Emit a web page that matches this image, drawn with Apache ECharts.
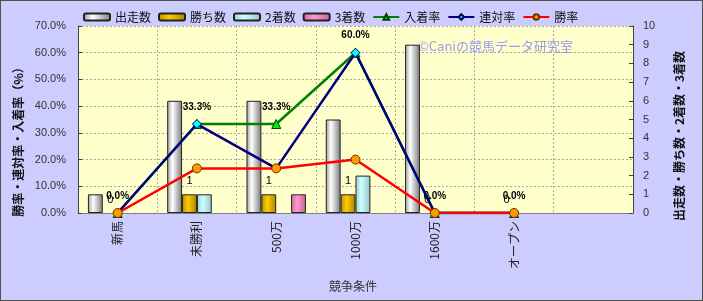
<!DOCTYPE html>
<html>
<head>
<meta charset="utf-8">
<script src="https://cdn.jsdelivr.net/npm/echarts@6/dist/echarts.min.js"></script>
<style>
html,body{margin:0;padding:0;background:#CCCCFF;}
#c{width:703px;height:301px;box-sizing:border-box;border:1px solid #505050;background:#CCCCFF;}
</style>
</head>
<body>
<div id="c"></div>
<script>
// ---- data ----
var categories = ['新馬', '未勝利', '500万', '1000万', '1600万', 'オープン', ''];
var runs      = [1, 6, 6, 5, 9, 0, null];      // 出走数
var wins      = [0, 1, 1, 1, 0, 0, null];      // 勝ち数
var seconds   = [0, 1, 0, 2, 0, 0, null];      // 2着数
var thirds    = [0, 0, 1, 0, 0, 0, null];      // 3着数
var placeRate = [0, 33.3, 33.3, 60.0, 0, 0, null]; // 入着率
var rentaiRate= [0, 33.3, 16.7, 60.0, 0, 0, null]; // 連対率
var winRate   = [0, 16.7, 16.7, 20.0, 0, 0, null]; // 勝率
var leftTicks = {min: 0, max: 70, interval: 10};
var rightTicks = {min: 0, max: 10, interval: 1};

var FONT = '"Liberation Sans", "Noto Sans CJK JP", sans-serif';
var JFONT = '"Noto Sans CJK JP", "Liberation Sans", sans-serif';

function grad(stops) {
  return new echarts.graphic.LinearGradient(0, 0, 1, 0, stops);
}
// zero-height bars get no outline (invisible, as in the reference)
function barData(arr) {
  return arr.map(function (v) {
    return v === 0 ? {value: 0, itemStyle: {borderWidth: 0, opacity: 0}} : v;
  });
}

var chart = echarts.init(document.getElementById('c'), null, {renderer: 'canvas'});
var option = {
  animation: false,
  textStyle: {fontFamily: FONT},
  legend: {
    left: 82, top: 10, padding: 0,
    itemWidth: 26, itemHeight: 7, itemGap: 7,
    textStyle: {fontFamily: JFONT, fontSize: 12, color: '#111'},
    data: ['出走数', '勝ち数', '2着数', '3着数', '入着率', '連対率', '勝率']
  },
  grid: {
    left: 77, right: 69, top: 25, bottom: 87,
    show: true, backgroundColor: '#FFFFCC', borderWidth: 0
  },
  xAxis: {
    type: 'category',
    data: categories,
    boundaryGap: true,
    axisLine: {show: true, lineStyle: {color: '#808080', width: 1}},
    axisTick: {show: false},
    axisLabel: {rotate: 90, margin: 8, fontFamily: JFONT, fontSize: 12, color: '#222', interval: 0},
    splitLine: {show: true, interval: 0, lineStyle: {color: '#A8A8A8', type: [2, 2], width: 1}}
  },
  yAxis: [
    {
      type: 'value', min: leftTicks.min, max: leftTicks.max, interval: leftTicks.interval,
      axisLine: {show: true, lineStyle: {color: '#404040'}},
      axisTick: {show: true, inside: true, length: 4, lineStyle: {color: '#404040'}},
      axisLabel: {fontSize: 11, color: '#333', margin: 12, formatter: function (v) { return v.toFixed(1) + '%'; }},
      splitLine: {show: true, lineStyle: {color: '#A8A8A8', type: [2, 2]}}
    },
    {
      type: 'value', min: rightTicks.min, max: rightTicks.max, interval: rightTicks.interval,
      axisLine: {show: true, lineStyle: {color: '#404040'}},
      axisTick: {show: true, inside: true, length: 4, lineStyle: {color: '#404040'}},
      axisLabel: {fontSize: 11, color: '#333', margin: 10},
      splitLine: {show: false}
    }
  ],
  graphic: [
    {type: 'text', left: 417, top: 39, z: 1,
     style: {text: '©Caniの競馬データ研究室', font: '13px ' + JFONT, fill: '#9A9AF2'}},
    {type: 'text', x: 17, y: 138, rotation: Math.PI / 2,
     style: {text: '勝率・連対率・入着率（%）', font: 'bold 12px ' + JFONT, fill: '#111', align: 'center', verticalAlign: 'middle'}},
    {type: 'text', x: 678, y: 135, rotation: Math.PI / 2,
     style: {text: '出走数・勝ち数・2着数・3着数', font: 'bold 12px ' + JFONT, fill: '#111', align: 'center', verticalAlign: 'middle'}},
    {type: 'text', x: 352, y: 285,
     style: {text: '競争条件', font: '12px ' + JFONT, fill: '#333', align: 'center', verticalAlign: 'middle'}}
  ],
  series: [
    {
      name: '出走数', type: 'bar', yAxisIndex: 1, data: barData(runs),
      barGap: '0%', barCategoryGap: '25%',
      itemStyle: {color: grad([{offset: 0, color: '#9a9a9a'}, {offset: 0.35, color: '#ffffff'}, {offset: 1, color: '#7a7a7a'}]),
                  borderColor: '#222', borderWidth: 1}
    },
    {
      name: '勝ち数', type: 'bar', yAxisIndex: 1,
      data: wins.map(function (v) { return v === 0 ? {value: 0, itemStyle: {borderWidth: 0, color: 'rgba(0,0,0,0)'}} : v; }),
      itemStyle: {color: grad([{offset: 0, color: '#B89000'}, {offset: 0.4, color: '#FFCC00'}, {offset: 1, color: '#A88400'}]),
                  borderColor: '#222', borderWidth: 1},
      label: {show: true, position: 'top', distance: 8, fontSize: 11, color: '#000'}
    },
    {
      name: '2着数', type: 'bar', yAxisIndex: 1, data: barData(seconds),
      itemStyle: {color: grad([{offset: 0, color: '#9ED0D0'}, {offset: 0.4, color: '#CCFFFF'}, {offset: 1, color: '#92C4C4'}]),
                  borderColor: '#222', borderWidth: 1}
    },
    {
      name: '3着数', type: 'bar', yAxisIndex: 1, data: barData(thirds),
      itemStyle: {color: grad([{offset: 0, color: '#CC6F9E'}, {offset: 0.4, color: '#FF99CC'}, {offset: 1, color: '#C06494'}]),
                  borderColor: '#222', borderWidth: 1}
    },
    {
      name: '入着率', type: 'line', yAxisIndex: 0, data: placeRate, z: 3,
      symbol: 'triangle', symbolSize: 9, showAllSymbol: true,
      lineStyle: {color: '#008000', width: 2.5},
      itemStyle: {color: '#00EE00', borderColor: '#004000', borderWidth: 1},
      label: {show: true, position: 'top', distance: 7, fontSize: 10, fontWeight: 'bold', color: '#000',
              formatter: function (p) { return p.value.toFixed(1) + '%'; }}
    },
    {
      name: '連対率', type: 'line', yAxisIndex: 0, data: rentaiRate, z: 4,
      symbol: 'diamond', symbolSize: 9, showAllSymbol: true,
      lineStyle: {color: '#000080', width: 2.5},
      itemStyle: {color: '#00FFFF', borderColor: '#000060', borderWidth: 1}
    },
    {
      name: '勝率', type: 'line', yAxisIndex: 0, data: winRate, z: 5,
      symbol: 'circle', symbolSize: 9, showAllSymbol: true,
      lineStyle: {color: '#FF0000', width: 2.5},
      itemStyle: {color: '#FF9900', borderColor: '#703000', borderWidth: 1}
    }
  ]
};
chart.setOption(option);
</script>
</body>
</html>
